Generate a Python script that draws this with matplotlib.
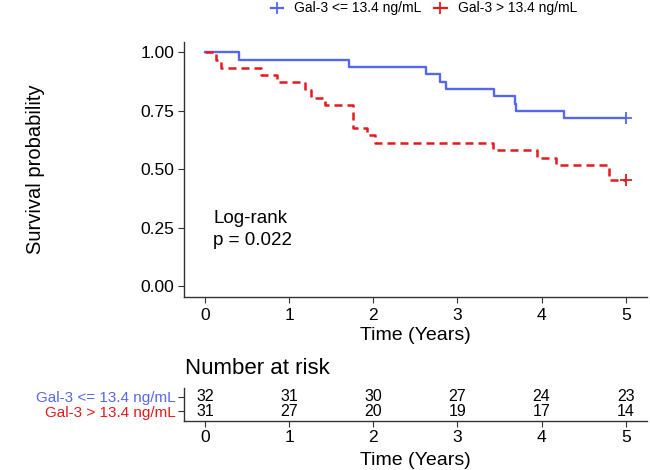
import matplotlib
matplotlib.use("Agg")
from matplotlib import pyplot as plt
from matplotlib.lines import Line2D

# Kaplan-Meier curves
groups = ["Gal-3 <= 13.4 ng/mL", "Gal-3 > 13.4 ng/mL"]
low_times = [0, 0.41, 1.71, 2.63, 2.79, 2.86, 3.43, 3.68, 3.70, 4.27, 5.0]
low_surv = [1.0, 0.969, 0.938, 0.906, 0.875, 0.844, 0.812, 0.781, 0.75, 0.719, 0.719]
high_times = [0, 0.13, 0.19, 0.66, 0.85, 1.19, 1.26, 1.43, 1.76, 1.92, 2.02,
              3.42, 3.95, 4.17, 4.80, 5.0]
high_surv = [1.0, 0.968, 0.935, 0.903, 0.871, 0.839, 0.806, 0.774, 0.677, 0.645,
             0.613, 0.581, 0.548, 0.516, 0.452, 0.452]
censor_low = [5.0]
censor_high = [5.0]

risk_times = [0, 1, 2, 3, 4, 5]
risk_low = [32, 31, 30, 27, 24, 23]
risk_high = [31, 27, 20, 19, 17, 14]

blue = "#5467EE"
red = "#E41A1C"
plt.rcParams["font.family"] = ["Liberation Sans", "DejaVu Sans"]

fig = plt.figure(figsize=(6.5, 4.7), dpi=100)
ax = fig.add_axes([0.283, 0.369, 0.712, 0.542])

ax.step(low_times, low_surv, where="post", color=blue, lw=1.7)
ax.step(high_times, high_surv, where="post", color=red, lw=1.8, ls=(0, (3.2, 2.0)))
ax.plot(censor_low, [low_surv[-1]], "+", color=blue, ms=9, mew=1.3)
ax.plot(censor_high, [high_surv[-1]], "+", color=red, ms=9, mew=1.3)

ax.set_xlim(-0.25, 5.25)
ax.set_ylim(-0.045, 1.045)
ax.set_xticks(risk_times)
ax.set_yticks([0, 0.25, 0.5, 0.75, 1.0])
ax.set_yticklabels(["0.00", "0.25", "0.50", "0.75", "1.00"])
ax.set_xlabel("Time (Years)", fontsize=14, labelpad=3)
ax.set_ylabel("Survival probability", fontsize=14.5, labelpad=69)
ax.tick_params(labelsize=12.5, length=4, width=0.8, color="#333333", pad=3)
ax.tick_params(axis="x", pad=4)
for s in ["top", "right"]:
    ax.spines[s].set_visible(False)
for s in ["left", "bottom"]:
    ax.spines[s].set_color("#333333")
    ax.spines[s].set_linewidth(1.0)

ax.text(0.1, 0.29, "Log-rank", fontsize=13.5, va="center", ha="left")
ax.text(0.1, 0.197, "p = 0.022", fontsize=13.5, va="center", ha="left")

handles = [Line2D([], [], color=blue, marker="+", lw=1.6, ms=9, mew=1.3),
           Line2D([], [], color=red, marker="+", lw=1.6, ms=9, mew=1.3)]
fig.legend(handles, groups, loc="center", bbox_to_anchor=(0.652, 0.982), ncol=2,
           frameon=False, fontsize=10, handlelength=0.9, columnspacing=0.9,
           handletextpad=0.8)

# risk table
rax = fig.add_axes([0.283, 0.105, 0.712, 0.07])
rax.set_xlim(-0.25, 5.25)
rax.set_ylim(0, 1)
for t, a, b in zip(risk_times, risk_low, risk_high):
    rax.text(t, 0.72, str(a), ha="center", va="center", fontsize=11.5)
    rax.text(t, 0.28, str(b), ha="center", va="center", fontsize=11.5)
rax.set_yticks([0.72, 0.28])
rax.set_yticklabels(groups, fontsize=11)
for lab, c in zip(rax.get_yticklabels(), [blue, red]):
    lab.set_color(c)
rax.set_xticks(risk_times)
rax.set_xlabel("Time (Years)", fontsize=14, labelpad=5)
rax.tick_params(labelsize=12.5, length=4, width=0.8, color="#333333", pad=2)
rax.tick_params(axis="y", labelsize=11)
rax.tick_params(axis="x", pad=3)
for s in ["top", "right"]:
    rax.spines[s].set_visible(False)
for s in ["left", "bottom"]:
    rax.spines[s].set_color("#333333")
    rax.spines[s].set_linewidth(1.0)
fig.text(0.285, 1 - 368 / 470, "Number at risk", fontsize=16, va="center", ha="left")

fig.savefig("out.png", dpi=100)
